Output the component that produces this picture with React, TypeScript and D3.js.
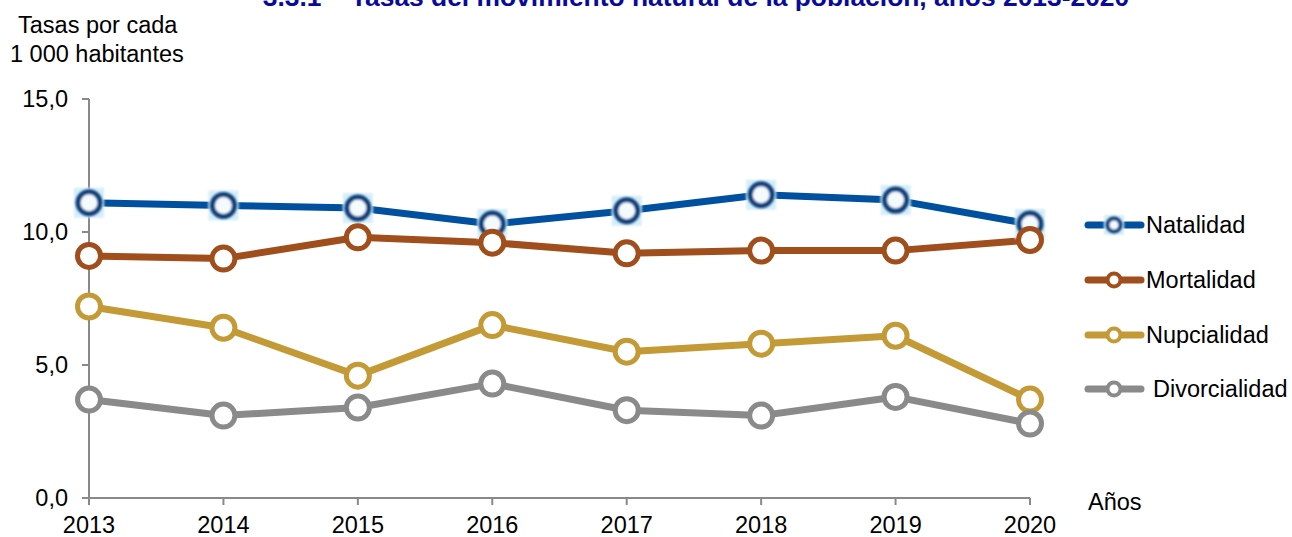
import React from "react";
import * as d3 from "d3";

const years = [2013, 2014, 2015, 2016, 2017, 2018, 2019, 2020];
const natalidad = [11.1, 11.0, 10.9, 10.3, 10.8, 11.4, 11.2, 10.3];
const mortalidad = [9.1, 9.0, 9.8, 9.6, 9.2, 9.3, 9.3, 9.7];
const nupcialidad = [7.2, 6.4, 4.6, 6.5, 5.5, 5.8, 6.1, 3.7];
const divorcialidad = [3.7, 3.1, 3.4, 4.3, 3.3, 3.1, 3.8, 2.8];
const yTicks = [0, 5, 10, 15];
const yTickLabels = ["0,0", "5,0", "10,0", "15,0"];

const seriesNames = ["Natalidad", "Mortalidad", "Nupcialidad", "Divorcialidad"];
const seriesColors = ["#0050A0", "#A04E1C", "#C49A36", "#8A8A8A"];

const title = "3.3.1 – Tasas del movimiento natural de la población, años 2013-2020";

export default function App() {
  const W = 1292, H = 537;
  const x = d3.scaleLinear().domain([2013, 2020]).range([89, 1030]);
  const y = d3.scaleLinear().domain([0, 15]).range([498, 99]);
  const data = [natalidad, mortalidad, nupcialidad, divorcialidad];
  const line = d3.line<number>().x((_, i) => x(years[i])).y((d) => y(d));
  const font = "'Liberation Sans', Arial, sans-serif";
  const fs = 23.5;
  const axisColor = "#898989";
  const legendY = [225, 280, 335, 389];

  const natMarker = (cx: number, cy: number, key: string) => (
    <g key={key}>
      <rect x={cx - 15} y={cy - 15} width={30} height={30} fill="#d4eef8" filter="url(#blurS)" />
      <circle cx={cx} cy={cy} r={11} fill="#f4fbff" stroke="#0a3f7c" strokeWidth={5} filter="url(#blurS)" />
    </g>
  );
  const ringMarker = (cx: number, cy: number, color: string, key: string) => (
    <circle key={key} cx={cx} cy={cy} r={11.5} fill="#ffffff" stroke={color} strokeWidth={5} />
  );

  return (
    <svg width={W} height={H} style={{ position: "absolute", left: 0, top: 0, background: "#fff" }} fontFamily={font}>
      <defs>
        <filter id="blurS" x="-30%" y="-30%" width="160%" height="160%">
          <feGaussianBlur stdDeviation="1.2" />
        </filter>
      </defs>
      <text x={696} y={6} textAnchor="middle" fontSize={26.4} fontWeight="bold" fill="#0A0A9A">{title}</text>
      <text x={18} y={33} fontSize={fs} fill="#000">Tasas por cada</text>
      <text x={10} y={62} fontSize={fs} fill="#000">1 000 habitantes</text>

      {/* axes */}
      <line x1={89} x2={89} y1={y(15)} y2={y(0)} stroke={axisColor} strokeWidth={2} />
      <line x1={89} x2={1030} y1={y(0)} y2={y(0)} stroke={axisColor} strokeWidth={2} />
      {yTicks.map((t, i) => (
        <g key={"yt" + t}>
          <line x1={82} x2={89} y1={y(t)} y2={y(t)} stroke={axisColor} strokeWidth={2} />
          <text x={68} y={y(t)} dy="0.36em" textAnchor="end" fontSize={fs} fill="#000">{yTickLabels[i]}</text>
        </g>
      ))}
      {years.map((yr) => (
        <g key={"xt" + yr}>
          <line x1={x(yr)} x2={x(yr)} y1={y(0)} y2={y(0) + 7} stroke={axisColor} strokeWidth={2} />
          <text x={x(yr)} y={533} textAnchor="middle" fontSize={fs} fill="#000">{yr}</text>
        </g>
      ))}
      <text x={1088} y={510} fontSize={fs} fill="#000">Años</text>

      {/* series */}
      {data.map((d, si) => (
        <path key={"l" + si} d={line(d) || ""} fill="none" stroke={seriesColors[si]} strokeWidth={7} strokeLinejoin="round" />
      ))}
      {data.map((d, si) => (
        <g key={"m" + si}>
          {d.map((v, i) =>
            si === 0 ? natMarker(x(years[i]), y(v), "n" + i) : ringMarker(x(years[i]), y(v), seriesColors[si], "r" + i)
          )}
        </g>
      ))}

      {/* legend */}
      {seriesNames.map((name, si) => (
        <g key={"lg" + si}>
          <line x1={1088} x2={1141} y1={legendY[si]} y2={legendY[si]} stroke={seriesColors[si]} strokeWidth={7} strokeLinecap="round" />
          {si === 0 ? (
            <g>
              <rect x={1114 - 10} y={legendY[si] - 10} width={20} height={20} fill="#d4eef8" filter="url(#blurS)" />
              <circle cx={1114} cy={legendY[si]} r={6.5} fill="#f4fbff" stroke="#0a3f7c" strokeWidth={4} filter="url(#blurS)" />
            </g>
          ) : (
            <circle cx={1114} cy={legendY[si]} r={6.5} fill="#fff" stroke={seriesColors[si]} strokeWidth={4} />
          )}
          <text x={si === 3 ? 1153 : 1146} y={legendY[si]} dy="0.36em" fontSize={fs} fill="#000">{name}</text>
        </g>
      ))}
    </svg>
  );
}
